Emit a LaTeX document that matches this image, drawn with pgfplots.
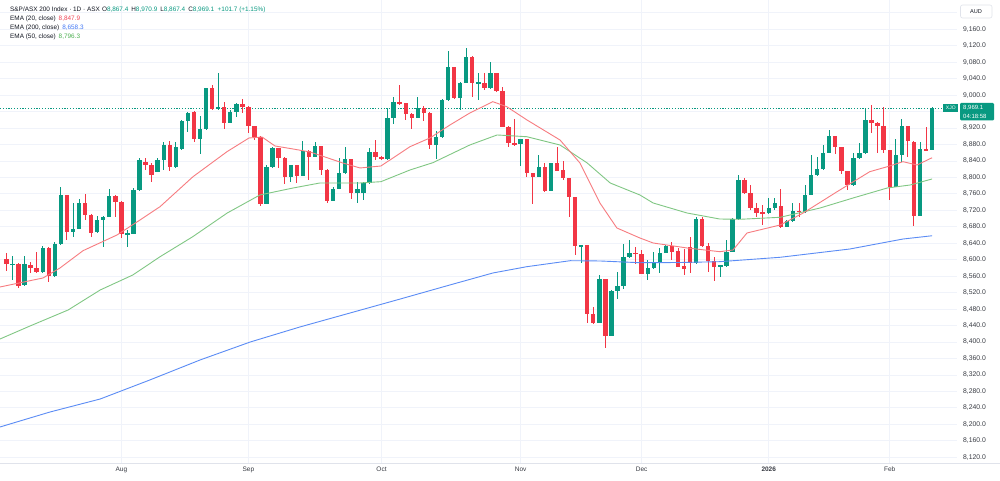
\documentclass[border=0pt]{standalone}
\usepackage{pgfplots}
\pgfplotsset{compat=1.18}
\usepackage{pgfplotstable}
\usepackage{fontspec}
\setmainfont{Liberation Sans}

\definecolor{upc}{RGB}{8,153,129}
\definecolor{dnc}{RGB}{242,54,69}
\definecolor{emaR}{RGB}{247,124,128}
\definecolor{emaG}{RGB}{129,199,132}
\definecolor{emaB}{RGB}{91,140,245}
\definecolor{valR}{RGB}{242,70,85}
\definecolor{valG}{RGB}{76,175,80}
\definecolor{valB}{RGB}{66,120,245}
\definecolor{gridc}{RGB}{240,243,250}
\definecolor{txt}{RGB}{19,23,34}
\definecolor{scaletxt}{RGB}{55,58,66}
\definecolor{borderc}{RGB}{224,227,235}

% daily candles, index 0 = first session shown
\pgfplotstableread{
i o h l c
0 8601.8 8617.2 8573.5 8588.9
1 8588.0 8609.0 8551.0 8590.0
2 8589.7 8591.0 8530.8 8536.2
3 8538.0 8609.0 8536.0 8589.7
4 8587.0 8595.0 8567.0 8579.0
5 8579.0 8619.6 8567.0 8569.4
6 8569.4 8633.4 8568.6 8629.4
7 8629.4 8631.0 8545.0 8559.7
8 8559.7 8642.0 8559.0 8638.3
9 8637.5 8776.0 8637.0 8756.5
10 8756.5 8757.0 8648.0 8666.6
11 8666.6 8737.0 8656.0 8675.5
12 8675.5 8748.4 8675.0 8737.0
13 8737.0 8759.0 8696.6 8709.6
14 8709.6 8712.0 8654.5 8664.2
15 8666.6 8706.0 8664.0 8696.6
16 8696.6 8706.3 8631.8 8703.9
17 8703.9 8772.7 8703.0 8755.0
18 8755.0 8757.0 8704.7 8741.2
19 8741.2 8742.0 8652.0 8661.8
20 8661.8 8672.3 8631.8 8664.2
21 8662.6 8773.5 8662.0 8769.5
22 8769.5 8846.5 8767.9 8842.4
23 8838.4 8846.5 8818.1 8830.3
24 8830.3 8834.3 8789.8 8806.0
25 8814.0 8846.5 8812.4 8842.4
26 8842.4 8887.0 8818.0 8878.8
27 8878.8 8888.6 8815.7 8824.6
28 8824.6 8887.0 8824.0 8873.2
29 8868.0 8939.6 8866.8 8937.2
30 8937.2 8960.0 8911.0 8957.4
31 8960.0 8960.5 8887.0 8893.4
32 8893.4 8949.0 8857.0 8916.9
33 8916.9 9017.4 8916.0 9016.6
34 9016.6 9024.6 8964.0 8965.5
35 8965.5 9053.0 8965.0 8970.4
36 8970.4 8982.5 8917.0 8933.1
37 8933.1 8964.0 8931.5 8959.8
38 8959.8 8980.0 8947.7 8978.4
39 8978.4 8989.8 8957.4 8972.0
40 8972.0 8973.0 8907.2 8925.8
41 8925.8 8926.0 8891.0 8899.0
42 8899.0 8900.0 8730.6 8734.7
43 8736.3 8830.2 8735.0 8826.2
44 8824.6 8875.0 8824.0 8870.8
45 8870.8 8871.5 8822.0 8848.1
46 8848.1 8849.0 8783.3 8801.9
47 8801.9 8830.0 8789.7 8829.4
48 8829.4 8830.0 8785.7 8803.5
49 8803.5 8888.6 8803.0 8864.3
50 8864.3 8866.0 8793.8 8850.5
51 8850.5 8887.0 8849.0 8876.4
52 8876.4 8877.0 8806.0 8818.1
53 8818.1 8820.0 8737.0 8743.6
54 8743.6 8777.6 8743.0 8771.9
55 8771.9 8846.5 8771.0 8810.0
56 8810.0 8874.8 8809.0 8844.8
57 8844.8 8845.5 8746.8 8763.0
58 8763.0 8789.8 8737.0 8771.1
59 8763.0 8789.8 8745.0 8785.7
60 8785.7 8870.8 8784.0 8861.0
61 8861.0 8891.0 8842.4 8848.9
62 8848.9 8852.0 8842.0 8844.0
63 8844.0 8966.3 8843.5 8944.5
64 8944.5 8994.7 8929.9 8984.2
65 8984.2 9024.6 8976.0 8978.5
66 8980.0 8981.0 8939.6 8954.2
67 8954.2 8956.0 8916.9 8945.3
68 8945.3 8994.7 8945.0 8968.0
69 8968.0 8973.6 8937.2 8957.4
70 8957.4 8958.0 8868.3 8878.9
71 8878.9 8913.7 8844.0 8897.5
72 8897.5 8989.8 8896.7 8988.2
73 8988.2 9108.0 8987.0 9067.6
74 9067.6 9068.0 8989.8 8992.3
75 8992.3 9032.8 8963.9 9030.3
76 9030.3 9113.8 9028.7 9093.5
77 9093.5 9094.0 8996.3 9028.7
78 9028.7 9053.0 8988.2 9031.1
79 9030.0 9053.0 9012.5 9016.6
80 9016.6 9081.4 9015.7 9054.6
81 9054.6 9055.0 9006.8 9010.1
82 9010.1 9019.0 8921.8 8923.4
83 8923.4 8924.0 8874.8 8884.5
84 8884.5 8942.0 8876.4 8880.5
85 8880.5 8894.0 8828.6 8893.4
86 8893.4 8894.0 8801.9 8811.6
87 8811.6 8812.0 8734.7 8800.3
88 8800.3 8854.6 8800.0 8826.2
89 8826.2 8834.3 8765.5 8767.9
90 8767.9 8836.0 8767.0 8834.3
91 8834.3 8873.2 8816.0 8816.5
92 8818.0 8840.8 8793.8 8797.9
93 8797.9 8798.0 8704.7 8751.7
94 8751.7 8752.0 8611.5 8633.4
95 8631.8 8636.0 8591.3 8635.0
96 8635.0 8636.0 8445.5 8468.2
97 8468.2 8486.0 8445.0 8447.1
98 8447.1 8563.0 8445.5 8552.4
99 8552.4 8553.0 8384.8 8415.5
100 8415.5 8525.5 8414.7 8524.9
101 8524.9 8571.1 8505.4 8536.2
102 8536.2 8638.3 8530.0 8605.9
103 8605.9 8648.0 8603.5 8615.6
104 8617.0 8631.8 8589.7 8614.0
105 8613.2 8623.7 8564.6 8565.4
106 8565.4 8599.4 8550.8 8579.2
107 8579.2 8619.6 8576.7 8593.7
108 8593.7 8627.8 8567.0 8617.2
109 8617.2 8636.0 8615.6 8633.4
110 8633.4 8644.0 8599.4 8619.6
111 8622.0 8627.8 8581.6 8583.2
112 8584.8 8625.3 8563.0 8576.7
113 8630.2 8656.1 8568.6 8591.3
114 8591.3 8703.1 8589.7 8698.2
115 8698.2 8704.7 8630.2 8633.4
116 8633.4 8639.9 8571.1 8597.8
117 8597.8 8607.5 8549.2 8583.2
118 8583.2 8588.0 8557.3 8587.3
119 8585.0 8648.0 8583.0 8619.6
120 8619.6 8700.7 8618.0 8698.2
121 8698.2 8806.0 8697.0 8793.8
122 8793.8 8798.0 8761.0 8761.4
123 8761.4 8781.6 8721.0 8724.9
124 8724.9 8737.0 8704.7 8714.4
125 8716.8 8733.0 8684.4 8712.8
126 8712.8 8749.2 8711.0 8724.9
127 8725.0 8749.0 8720.0 8737.0
128 8730.0 8771.1 8676.4 8680.4
129 8680.4 8696.6 8678.8 8694.2
130 8694.2 8737.0 8692.6 8719.3
131 8719.3 8737.0 8704.7 8716.0
132 8716.0 8781.6 8714.4 8757.4
133 8757.4 8854.6 8756.6 8806.0
134 8806.0 8850.5 8803.5 8819.7
135 8819.7 8878.9 8818.1 8860.2
136 8860.2 8915.3 8858.6 8901.5
137 8901.5 8902.0 8857.0 8873.2
138 8873.2 8874.0 8808.4 8815.7
139 8815.7 8816.0 8769.5 8781.7
140 8781.7 8858.6 8780.0 8846.5
141 8846.5 8882.9 8845.0 8858.6
142 8858.6 8968.0 8857.8 8939.6
143 8939.6 8976.0 8907.2 8931.5
144 8933.0 8934.0 8858.6 8925.8
145 8925.8 8970.4 8858.6 8866.7
146 8866.7 8867.0 8745.2 8777.6
147 8777.6 8892.6 8776.0 8854.6
148 8854.6 8941.2 8838.4 8925.8
149 8925.8 8926.0 8850.5 8888.6
150 8887.0 8888.0 8682.0 8706.3
151 8706.3 8887.0 8706.0 8868.3
152 8868.3 8923.4 8864.0 8865.0
153 8867.4 8970.9 8867.4 8969.1
}\candles

\begin{document}
\begin{tikzpicture}
\useasboundingbox (0,0) rectangle (1000pt,481pt);
\fill[white] (0,0) rectangle (1000pt,481pt);
\begin{axis}[
  at={(0pt,18pt)}, anchor=south west,
  scale only axis, width=957pt, height=463pt,
  xmin=-1.058, xmax=157.12, ymin=8106.1, ymax=9231.2,
  clip=false,
  axis line style={draw=none},
  tick style={draw=none}, major tick length=0pt,
  xtick={19,40,62,85,105,126,146},
  xticklabels={Aug,Sep,Oct,Nov,Dec,\textbf{2026},Feb},
  xticklabel style={font=\fontsize{6.5}{8}\selectfont, text=scaletxt, anchor=north, inner sep=0pt, yshift=-4pt},
  % 8,960 sits under the last-price tag, so it gets a grid line but no label
  ytick={8120,8160,...,8920,9000,9040,...,9160},
  extra y ticks={8960,9200}, extra y tick labels={},
  extra y tick style={grid=major},
  yticklabel pos=right,
  yticklabel style={font=\fontsize{6.8}{8}\selectfont, text=scaletxt, anchor=west, inner sep=0pt, xshift=6pt},
  scaled y ticks=false,
  y tick label style={/pgf/number format/.cd, fixed, fixed zerofill, precision=1, 1000 sep={,}, assume math mode=true},
  grid=major,
  major grid style={draw=gridc, line width=0.9pt},
  unbounded coords=discard,
  candle/.style={draw=none, mark=none, forget plot,
    error bars/.cd, y dir=both, y explicit, error mark=none},
]
% last price line
\addplot [upc, line width=0.7pt, dash pattern=on 1.2pt off 1.6pt, forget plot]
  coordinates {(-1.058,8969.1) (157.12,8969.1)};

% wicks
\addplot [candle, error bar style={draw=upc, line width=0.9pt}]
  table [x=i, y expr={\thisrow{c}>=\thisrow{o} ? (\thisrow{h}+\thisrow{l})/2 : nan},
         y error expr={(\thisrow{h}-\thisrow{l})/2}] {\candles};
\addplot [candle, error bar style={draw=dnc, line width=0.9pt}]
  table [x=i, y expr={\thisrow{c}<\thisrow{o} ? (\thisrow{h}+\thisrow{l})/2 : nan},
         y error expr={(\thisrow{h}-\thisrow{l})/2}] {\candles};
% bodies
\addplot [candle, error bar style={draw=upc, line width=4.4pt}]
  table [x=i, y expr={\thisrow{c}>=\thisrow{o} ? (\thisrow{o}+\thisrow{c})/2 : nan},
         y error expr={max(abs(\thisrow{c}-\thisrow{o})/2,1.2)}] {\candles};
\addplot [candle, error bar style={draw=dnc, line width=4.4pt}]
  table [x=i, y expr={\thisrow{c}<\thisrow{o} ? (\thisrow{o}+\thisrow{c})/2 : nan},
         y error expr={max(abs(\thisrow{c}-\thisrow{o})/2,1.2)}] {\candles};

% EMA 200
\addplot [emaB, line width=0.9pt, forget plot] coordinates {
(-1.06,8193.6) (7.2,8230.0) (15.5,8261.6) (23.7,8307.8) (32.0,8356.4) (40.3,8400.1)
(48.5,8436.6) (56.8,8470.6) (65.1,8504.6) (73.3,8538.7) (80.4,8567.8) (86.0,8583.1)
(93.2,8597.7) (98.1,8597.0) (104.7,8592.8) (111.3,8593.3) (117.9,8595.3) (127.9,8606.0)
(139.4,8626.1) (148.2,8650.4) (153,8658.3)};
% EMA 50
\addplot [emaG, line width=0.9pt, forget plot] coordinates {
(-1.06,8407.4) (3.9,8439.0) (10.2,8477.9) (15.5,8526.5) (20.9,8563.0) (25.4,8607.4)
(30.8,8656.0) (36.5,8713.6) (41.9,8757.4) (47.4,8774.4) (51.8,8786.5) (58.4,8786.5)
(61.9,8789.7) (66.7,8818.1) (70.5,8835.9) (76.6,8878.9) (81.1,8903.2) (86.0,8899.0)
(91.5,8878.9) (96.0,8835.1) (99.8,8786.5) (104.7,8757.4) (106.9,8737.9) (112.5,8713.6)
(117.9,8699.0) (121.3,8698.3) (127.9,8703.2) (134.5,8725.8) (139.9,8749.9) (145.6,8774.4)
(149.4,8781.7) (153,8796.3)};
% EMA 20
\addplot [emaR, line width=0.9pt, forget plot] coordinates {
(-1.06,8533.8) (6.05,8555.7) (8.86,8580.0) (12.66,8622.0) (18.28,8660.2) (22.08,8696.6)
(25.39,8728.9) (30.84,8801.8) (36.46,8862.6) (40.1,8895.9) (42.25,8898.3) (44.4,8876.4)
(47.4,8869.1) (50.2,8861.8) (55.6,8835.1) (58.45,8823.0) (61.9,8827.8) (66.7,8874.7)
(70.0,8895.9) (73.3,8927.4) (76.6,8956.6) (80.4,8984.1) (82.7,8971.9) (86.05,8939.6)
(91.5,8891.0) (94.8,8835.1) (98.1,8737.9) (100.9,8677.2) (104.7,8652.9) (106.9,8640.7)
(112.5,8628.6) (117.9,8619.6) (120.1,8623.7) (122.4,8665.0) (127.9,8684.5) (131.7,8713.6)
(137.3,8765.4) (142.7,8814.0) (145.6,8826.1) (148.2,8838.3) (150.5,8830.2) (153,8847.9)};

\coordinate (pl) at (axis cs:157.12,8969.1);
\end{axis}

% bottom border of the pane
\draw[borderc, line width=0.6pt] (0,18pt) -- (1000pt,18pt);

% last price tags
\node[fill=upc, text=white, inner sep=0pt, minimum width=15pt, minimum height=8pt,
      font=\fontsize{5}{6}\selectfont, anchor=east] at ([xshift=1.5pt]pl) {XJO};
\fill[upc, rounded corners=1.2pt] ([xshift=3pt,yshift=5pt]pl) rectangle ([xshift=37pt,yshift=-12.6pt]pl);
\node[text=white, inner sep=0pt, anchor=base west, font=\fontsize{6}{7}\selectfont] at ([xshift=6pt,yshift=-1.8pt]pl) {8,969.1};
\node[text=white, inner sep=0pt, anchor=base west, font=\fontsize{6}{7}\selectfont] at ([xshift=6pt,yshift=-10.2pt]pl) {04:18:58};

% currency tag
\draw[borderc, fill=white, rounded corners=2pt, line width=0.6pt] (960.5pt,463pt) rectangle (992pt,476pt);
\node[text=txt, inner sep=0pt, font=\fontsize{5.6}{7}\selectfont] at (976pt,469.5pt) {AUD};

% legend
\begin{scope}[every node/.style={anchor=west, inner sep=0pt, text=txt, font=\fontsize{6.4}{7.5}\selectfont}]
\node at (10pt,471pt) {S\&P/ASX 200 Index · 1D · ASX\hspace{2.2pt}O\textcolor{upc}{8,867.4}\hspace{3pt}H\textcolor{upc}{8,970.9}\hspace{3pt}L\textcolor{upc}{8,867.4}\hspace{3pt}C\textcolor{upc}{8,969.1}\hspace{3.5pt}\textcolor{upc}{+101.7 (+1.15\%)}};
\node at (10pt,462pt) {EMA (20, close)\hspace{3pt}\textcolor{valR}{8,847.9}};
\node at (10pt,453pt) {EMA (200, close)\hspace{3pt}\textcolor{valB}{8,658.3}};
\node at (10pt,444pt) {EMA (50, close)\hspace{3pt}\textcolor{valG}{8,796.3}};
\end{scope}
\end{tikzpicture}
\end{document}
